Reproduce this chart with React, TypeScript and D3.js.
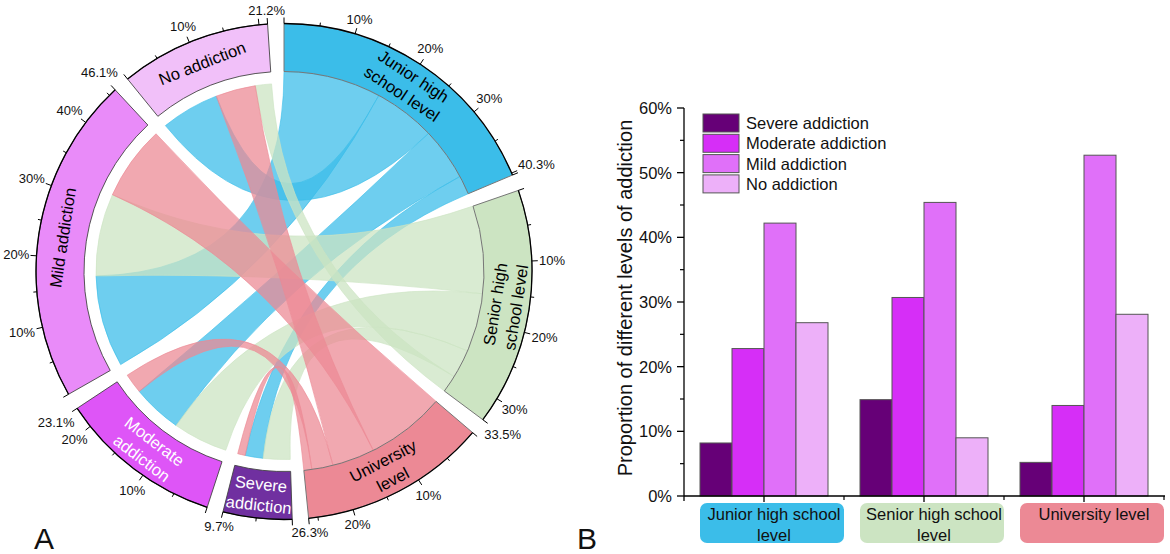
import React from 'react';
import * as d3 from 'd3';

// ---------- data ----------
const schoolLevels = ['Junior high school level', 'Senior high school level', 'University level'];
const schoolRingLines = [['Junior high', 'school level'], ['Senior high', 'school level'], ['University', 'level']];
const schoolBoxLines = [['Junior high school', 'level'], ['Senior high school', 'level'], ['University level']];
const addictionLevels = ['Severe addiction', 'Moderate addiction', 'Mild addiction', 'No addiction'];
const addictionRingLines = [['Severe', 'addiction'], ['Moderate', 'addiction'], ['Mild addiction'], ['No addiction']];

// share of all students (%), printed at the end of each ring segment
const schoolShare = [40.3, 33.5, 26.3];
const addictionShare = [9.7, 23.1, 46.1, 21.2];

// chord flows (% of all students): severe, moderate, mild, no
const flowJunior = [3.3, 9.2, 17.0, 10.8];
const flowSenior = [5.0, 10.2, 15.3, 3.0];
const flowUniversity = [1.4, 3.7, 13.8, 7.4];

// bar chart B (% within each school level): severe, moderate, mild, no
const barJunior = [8.2, 22.8, 42.2, 26.8];
const barSenior = [14.9, 30.7, 45.4, 9.0];
const barUniversity = [5.2, 14.0, 52.7, 28.1];

const yTicks = [0, 10, 20, 30, 40, 50, 60];

// ---------- styles ----------
const schoolColors = ['#3BBDE9', '#CCE4C2', '#EC8995'];
const addictionRingColors = ['#7030A0', '#DE55F7', '#E98BF9', '#F1C0F9'];
const addictionTextColors = ['#ffffff', '#ffffff', '#000000', '#000000'];
const barColors = ['#660077', '#D62EF7', '#E070F9', '#EDB0F9'];

const FONT = "'Liberation Sans', Arial, sans-serif";

const cx = 284;
const cy = 271.5;
const R_OUT = 248;
const R_IN = 200;
const R_TARGET = 188;

function charW(s: string, fs: number) {
  let w = 0;
  for (const ch of s) {
    if (ch === '.') w += 0.278;
    else if (ch === '%') w += 0.889;
    else w += 0.556;
  }
  return w * fs;
}

function ChordPanel() {
  const flows = [flowJunior, flowSenior, flowUniversity];
  const n = 7;
  const matrix = Array.from({ length: n }, (_, i) =>
    Array.from({ length: n }, (_, j) => {
      if (i < 3 && j >= 3) return flows[i][j - 3];
      if (i >= 3 && j < 3) return flows[j][i - 3];
      return 0;
    })
  );
  const layout = d3.chord().padAngle((3.8 * Math.PI) / 180).sortSubgroups(d3.descending);
  const chords = layout(matrix);
  const ribbon = (d3.ribbon() as any).radius((d: any) => (d.index < 3 ? R_IN : R_TARGET));
  const arc = d3.arc<any>().innerRadius(R_IN).outerRadius(R_OUT);
  const outline = d3.arc<any>().innerRadius(R_OUT).outerRadius(R_OUT);

  const groupColor = (i: number) => (i < 3 ? schoolColors[i] : addictionRingColors[i - 3]);
  const groupShare = (i: number) => (i < 3 ? schoolShare[i] : addictionShare[i - 3]);
  const groupLines = (i: number) => (i < 3 ? schoolRingLines[i] : addictionRingLines[i - 3]);
  const groupText = (i: number) => (i < 3 ? '#000000' : addictionTextColors[i - 3]);

  return (
    <g>
      <g transform={`translate(${cx},${cy})`}>
        {chords.map((c: any, k: number) => {
          const src = c.source.index < 3 ? c.source.index : c.target.index;
          const col = schoolColors[src];
          return (
            <path
              key={'c' + k}
              d={ribbon(c)}
              fill={col}
              fillOpacity={0.74}
              stroke={col}
              strokeOpacity={0.9}
              strokeWidth={0.7}
            />
          );
        })}
        {chords.groups.map((g: any) => (
          <path
            key={'g' + g.index}
            d={arc(g) as string}
            fill={groupColor(g.index)}
            stroke={g.index < 3 ? '#777777' : '#444444'}
            strokeWidth={g.index < 3 ? 1 : 0.9}
          />
        ))}
        {chords.groups.map((g: any) => (
          <path
            key={'o' + g.index}
            d={outline(g) as string}
            fill="none"
            stroke="#000"
            strokeWidth={1.3}
          />
        ))}
      </g>
      {chords.groups.map((g: any) => {
        const total = groupShare(g.index);
        const k = (g.endAngle - g.startAngle) / g.value;
        const vals: number[] = d3.range(0, total + 1e-9, 5);
        if (Math.abs(vals[vals.length - 1] - total) > 1e-6) vals.push(total);
        return (
          <g key={'t' + g.index}>
            {vals.map((v) => {
              const a = g.startAngle + Math.min(v, g.value) * k;
              const s = Math.sin(a);
              const c = Math.cos(a);
              const isEnd = v === total;
              const major = isEnd || v % 10 === 0;
              const len = major ? 6 : 3.5;
              const x1 = cx + R_OUT * s, y1 = cy - R_OUT * c;
              const x2 = cx + (R_OUT + len) * s, y2 = cy - (R_OUT + len) * c;
              let label: string | null = null;
              if (isEnd) label = total.toFixed(1) + '%';
              else if (v > 0 && v % 10 === 0 && total - v > 2) label = v + '%';
              let lx = 0, ly = 0;
              if (label) {
                const w = charW(label, 13);
                const dist = R_OUT + 7 + (w / 2) * Math.abs(s) + 5 * Math.abs(c);
                lx = cx + dist * s;
                ly = cy - dist * c;
              }
              return (
                <g key={'tk' + v}>
                  <line x1={x1} y1={y1} x2={x2} y2={y2} stroke="#000" strokeWidth={1} />
                  {label && (
                    <text
                      x={lx}
                      y={ly}
                      fontSize={13}
                      fontFamily={FONT}
                      textAnchor="middle"
                      dominantBaseline="central"
                      fill="#111"
                    >
                      {label}
                    </text>
                  )}
                </g>
              );
            })}
          </g>
        );
      })}
      {chords.groups.map((g: any) => {
        const mid = (g.startAngle + g.endAngle) / 2;
        const deg = (mid * 180) / Math.PI;
        const flip = deg > 90 && deg < 270;
        const rot = flip ? deg - 180 : deg;
        const lines = groupLines(g.index);
        const spacing = 21;
        const rMid = (R_IN + R_OUT) / 2;
        return (
          <g key={'l' + g.index}>
            {lines.map((line, i) => {
              const off = (i - (lines.length - 1) / 2) * spacing;
              const r = flip ? rMid + off : rMid - off;
              const x = cx + r * Math.sin(mid);
              const y = cy - r * Math.cos(mid);
              return (
                <text
                  key={i}
                  transform={`translate(${x},${y}) rotate(${rot})`}
                  textAnchor="middle"
                  dominantBaseline="central"
                  fontSize={16.5}
                  fontFamily={FONT}
                  fill={groupText(g.index)}
                >
                  {line}
                </text>
              );
            })}
          </g>
        );
      })}
    </g>
  );
}

function BarPanel() {
  const bars = [barJunior, barSenior, barUniversity];
  const x0 = d3.scaleBand<string>().domain(schoolLevels).range([684, 1164]);
  const x1 = d3.scaleBand<string>().domain(addictionLevels).range([0, x0.bandwidth()]).paddingInner(0).paddingOuter(0.5);
  const y = d3.scaleLinear().domain([0, 60]).range([496, 108]);
  const minorY = d3.range(5, 60, 10);
  const xLeft = 684;
  const xRight = 1165;
  return (
    <g fontFamily={FONT}>
      {schoolLevels.map((sl, i) => (
        <g key={sl}>
          {addictionLevels.map((al, j) => (
            <rect
              key={al}
              x={(x0(sl) as number) + (x1(al) as number)}
              y={y(bars[i][j])}
              width={x1.bandwidth()}
              height={y(0) - y(bars[i][j])}
              fill={barColors[j]}
              stroke="#555"
              strokeWidth={1}
            />
          ))}
        </g>
      ))}
      {/* y axis */}
      <line x1={xLeft} y1={y(60)} x2={xLeft} y2={y(0) + 5} stroke="#000" strokeWidth={1.3} />
      {yTicks.map((t) => (
        <g key={'y' + t}>
          <line x1={xLeft - 7} y1={y(t)} x2={xLeft} y2={y(t)} stroke="#000" strokeWidth={1.3} />
          <text x={xLeft - 12} y={y(t)} textAnchor="end" dominantBaseline="central" fontSize={16.5} fill="#111">
            {t + '%'}
          </text>
        </g>
      ))}
      {minorY.map((t) => (
        <line key={'ym' + t} x1={xLeft - 4} y1={y(t)} x2={xLeft} y2={y(t)} stroke="#000" strokeWidth={1.2} />
      ))}
      {/* x axis */}
      <line x1={xLeft} y1={y(0)} x2={xRight} y2={y(0)} stroke="#000" strokeWidth={1.3} />
      {schoolLevels.map((sl) => (
        <line
          key={'xt' + sl}
          x1={(x0(sl) as number) + x0.bandwidth() / 2}
          y1={y(0)}
          x2={(x0(sl) as number) + x0.bandwidth() / 2}
          y2={y(0) + 6}
          stroke="#000"
          strokeWidth={1.3}
        />
      ))}
      {schoolLevels.map((sl) => (
        <line
          key={'xm' + sl}
          x1={(x0(sl) as number) + x0.bandwidth()}
          y1={y(0)}
          x2={(x0(sl) as number) + x0.bandwidth()}
          y2={y(0) + 4}
          stroke="#000"
          strokeWidth={1.2}
        />
      ))}
      {/* category boxes */}
      {schoolLevels.map((sl, i) => {
        const c = (x0(sl) as number) + x0.bandwidth() / 2 + 8;
        return (
          <g key={'box' + sl}>
            <rect x={c - 72} y={503} width={144} height={40} rx={7} ry={7} fill={schoolColors[i]} />
            {schoolBoxLines[i].map((ln, k) => (
              <text key={k} x={c + 2} y={514 + k * 21} textAnchor="middle" dominantBaseline="central" fontSize={16.5} fill="#111">
                {ln}
              </text>
            ))}
          </g>
        );
      })}
      {/* y label */}
      <text
        transform="translate(632,298) rotate(-90)"
        textAnchor="middle"
        fontSize={20}
        fill="#111"
      >
        Proportion of different levels of addiction
      </text>
      {/* legend */}
      {addictionLevels.map((al, j) => (
        <g key={'lg' + al}>
          <rect x={703} y={114 + j * 20.3} width={36} height={18} fill={barColors[j]} stroke="#555" strokeWidth={1} />
          <text x={746} y={123 + j * 20.3} dominantBaseline="central" fontSize={16.5} fill="#111">
            {al}
          </text>
        </g>
      ))}
    </g>
  );
}

export default function App() {
  return (
    <svg
      width={1170}
      height={554}
      viewBox="0 0 1170 554"
      style={{ position: 'absolute', left: 0, top: 0, background: '#fff' }}
    >
      <rect x={0} y={0} width={1170} height={554} fill="#fff" />
      <ChordPanel />
      <BarPanel />
      <text x={34} y={549} fontSize={30} fontFamily={FONT} fill="#111">A</text>
      <text x={577} y={549} fontSize={30} fontFamily={FONT} fill="#111">B</text>
    </svg>
  );
}
